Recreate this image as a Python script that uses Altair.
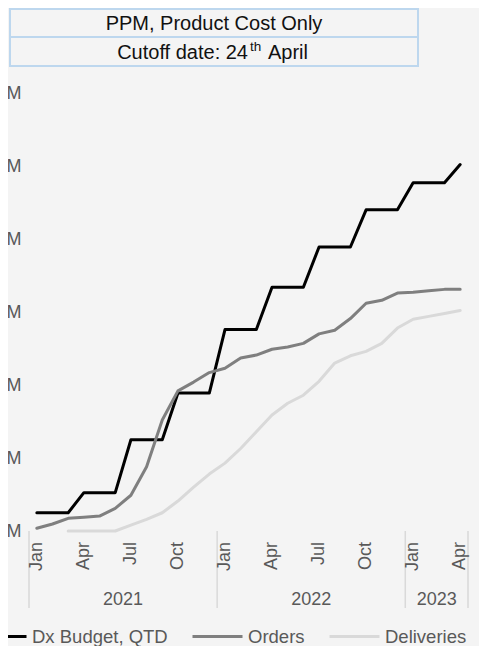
import altair as alt
import pandas as pd

# ---- data -------------------------------------------------------------
years = [2021, 2022, 2023]
month_names = ["Jan", "Feb", "Mar", "Apr", "May", "Jun",
               "Jul", "Aug", "Sep", "Oct", "Nov", "Dec"]
periods = [f"{y}-{m:02d}" for y in years for m in range(1, 13)][:28]

budget = [2.5, 2.5, 2.5, 5.25, 5.25, 5.25, 12.5, 12.5, 12.5, 18.9, 18.9, 18.9,
          27.6, 27.6, 27.6, 33.4, 33.4, 33.4, 38.9, 38.9, 38.9, 44.0, 44.0, 44.0,
          47.7, 47.7, 47.7, 50.2]
orders = [0.37, 0.96, 1.74, 1.88, 2.05, 3.1, 4.9, 8.8, 15.2, 19.2, 20.4, 21.7,
          22.3, 23.7, 24.1, 24.9, 25.2, 25.7, 27.0, 27.5, 29.1, 31.2, 31.6, 32.6,
          32.7, 32.9, 33.1, 33.1]
deliveries = [None, None, 0.0, 0.0, 0.0, 0.0, 0.8, 1.6, 2.5, 4.1, 6.0, 7.8,
              9.3, 11.3, 13.6, 15.9, 17.5, 18.6, 20.5, 23.0, 24.0, 24.6, 25.7, 27.8,
              29.0, 29.4, 29.8, 30.2]

series_names = ["Dx Budget, QTD", "Orders", "Deliveries"]
series_colors = ["#000000", "#7f7f7f", "#d9d9d9"]
series_widths = [3, 3, 4.5]

y_ticks = [0, 10, 20, 30, 40, 50, 60]
year_labels = ["2021", "2022", "2023"]
year_label_anchor = ["2021-07", "2022-07", "2023-03"]
year_starts = ["2021-01", "2022-01", "2023-01"]

title_line1 = "PPM, Product Cost Only"
title_line2 = ["Cutoff date: 24", "th", "April"]

# ---- tables -----------------------------------------------------------
rows = []
for name, vals in zip(series_names, [budget, orders, deliveries]):
    for p, v in zip(periods, vals):
        if v is not None:
            rows.append({"period": p, "value": v, "series": name})
df = pd.DataFrame(rows)

df_months = pd.DataFrame({
    "period": [p for p in periods if (int(p[5:]) - 1) % 3 == 0],
    "label": [month_names[int(p[5:]) - 1] for p in periods if (int(p[5:]) - 1) % 3 == 0],
})
df_years = pd.DataFrame({"period": year_label_anchor, "label": year_labels})
df_sep = pd.DataFrame({"period": year_starts})
df_end = pd.DataFrame({"period": [periods[-1]]})
dummy = pd.DataFrame({"a": [0]})

FONT = "Liberation Sans"
GREY = "#595959"
BG = "#f4f4f4"
W, H = 439, 438

xscale = alt.Scale(type="band", domain=periods, paddingInner=0, paddingOuter=0)
xaxis = alt.Axis(
    labels=False, ticks=False, domainColor="#d9d9d9", domainWidth=1.5,
    title=None, grid=False,
)
yaxis = alt.Axis(
    values=y_ticks, labelExpr="datum.value + 'M'", grid=False, domain=False,
    ticks=False, labelFontSize=18, labelColor=GREY, labelPadding=8, title=None,
)

lines = alt.Chart(df).mark_line(strokeJoin="round", strokeCap="round").encode(
    x=alt.X("period:N", bandPosition=0.5, scale=xscale, axis=xaxis),
    y=alt.Y("value:Q", scale=alt.Scale(domain=[0, 60], nice=False), axis=yaxis),
    color=alt.Color(
        "series:N",
        scale=alt.Scale(domain=series_names, range=series_colors),
        legend=alt.Legend(
            orient="none", legendX=-54, legendY=517, direction="horizontal",
            title=None, symbolType="stroke", symbolSize=2500,
            symbolStrokeWidth=4, labelFontSize=18.5, labelColor=GREY,
            labelFont=FONT, columnPadding=18, labelOffset=4, padding=0,
        ),
    ),
    strokeWidth=alt.StrokeWidth(
        "series:N", scale=alt.Scale(domain=series_names, range=series_widths),
        legend=None,
    ),
)

month_text = alt.Chart(df_months).mark_text(
    fontSize=18, color=GREY, angle=270, align="right", baseline="middle",
    font=FONT,
).encode(
    x=alt.X("period:N", bandPosition=0.5, scale=xscale, axis=None),
    y=alt.value(H + 11),
    text="label:N",
)
seps = alt.Chart(df_sep).mark_rule(color="#d9d9d9", strokeWidth=1.5).encode(
    x=alt.X("period:N", bandPosition=0, scale=xscale, axis=None),
    y=alt.value(H), y2=alt.value(H + 77),
)
sep_end = alt.Chart(df_end).mark_rule(color="#d9d9d9", strokeWidth=1.5).encode(
    x=alt.X("period:N", bandPosition=1, scale=xscale, axis=None),
    y=alt.value(H), y2=alt.value(H + 77),
)
year_text = alt.Chart(df_years).mark_text(
    fontSize=18, color=GREY, align="center", baseline="alphabetic", font=FONT
).encode(
    x=alt.X("period:N", bandPosition=0, scale=xscale, axis=None),
    y=alt.value(H + 74),
    text="label:N",
)

box_style = dict(fill=BG, stroke="#bdd7ee", strokeWidth=2)
box1 = alt.Chart(dummy).mark_rect(**box_style).encode(
    x=alt.value(-19), x2=alt.value(389), y=alt.value(-84), y2=alt.value(-56)
)
box2 = alt.Chart(dummy).mark_rect(**box_style).encode(
    x=alt.value(-19), x2=alt.value(389), y=alt.value(-56), y2=alt.value(-27)
)
t1 = alt.Chart(dummy).mark_text(
    text=title_line1, fontSize=20, color="#111111", align="center",
    baseline="alphabetic", font=FONT,
).encode(x=alt.value(185), y=alt.value(-63))
t2a = alt.Chart(dummy).mark_text(
    text=title_line2[0], fontSize=20, color="#111111", align="right",
    baseline="alphabetic", font=FONT,
).encode(x=alt.value(219), y=alt.value(-34))
t2b = alt.Chart(dummy).mark_text(
    text=title_line2[1], fontSize=13.5, color="#111111", align="left",
    baseline="alphabetic", font=FONT,
).encode(x=alt.value(221), y=alt.value(-42))
t2c = alt.Chart(dummy).mark_text(
    text=title_line2[2], fontSize=20, color="#111111", align="left",
    baseline="alphabetic", font=FONT,
).encode(x=alt.value(239), y=alt.value(-34))

chart = alt.layer(
    box1, box2, t1, t2a, t2b, t2c, seps, sep_end, month_text, year_text, lines
).properties(
    width=W, height=H,
    padding={"left": 21, "top": 85, "right": 11, "bottom": 115},
    autosize=alt.AutoSizeParams(type="none"),
    background=BG,
).configure(font=FONT).configure_view(stroke=None)

chart.save("out.html", embed_options={"renderer": "svg", "actions": False})
